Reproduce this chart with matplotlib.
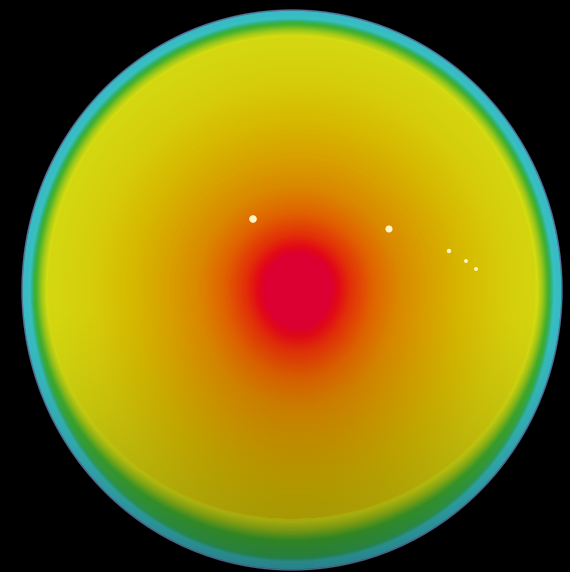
import numpy as np
import matplotlib
matplotlib.use("Agg")
import matplotlib.pyplot as plt
from matplotlib.colors import LinearSegmentedColormap
from matplotlib.patches import Ellipse

# colour scale of the heat map (value -> colour)
scale_values = [0.00, 0.10, 0.18, 0.26, 0.34, 0.40, 0.47, 0.53, 0.60, 0.66, 0.75, 0.85, 0.92, 1.00]
scale_colors = ["#3cb0d0", "#38c0c0", "#30b070", "#40b030", "#a0c818", "#d4dc12", "#d6cc0a",
                "#d6b800", "#d8a000", "#da8800", "#e06400", "#e23008", "#e20818", "#dc0032"]

# disc geometry (pixels)
disc_cx, disc_cy = 292, 290
disc_rx, disc_ry = 270, 280
hot_cx, hot_cy = 298, 287

# radial heat profile from the hot spot
heat_dist = [0, 33, 40, 52, 75, 100, 130, 165, 205, 245, 300]
heat_value = [1.0, 1.0, 0.92, 0.85, 0.75, 0.66, 0.60, 0.53, 0.47, 0.42, 0.40]

# cyan rim (depth from rim in px)
cyan_depth = [0, 8, 12]
cyan_value = [0.05, 0.10, 0.20]
# green band inside the rim (widens towards the bottom)
green_depth = [0, 14, 20, 27]
green_value = [0.18, 0.26, 0.34, 0.42]

# bright specks
speck_x = [253, 389, 449, 466, 476]
speck_y = [219, 229, 251, 261, 269]
speck_s = [30, 26, 10, 8, 8]

W, H = 570, 572
fig = plt.figure(figsize=(W / 100, H / 100), dpi=100, facecolor="black")
ax = fig.add_axes([0, 0, 1, 1])
ax.set_facecolor("black")

cmap = LinearSegmentedColormap.from_list("heat", list(zip(scale_values, scale_colors)))

yy, xx = np.mgrid[0:H, 0:W] + 0.5
dx = xx - hot_cx
dy = yy - hot_cy
dy = np.where(dy > 0, dy * 0.82, dy)
dh = np.hypot(dx, dy)
heat = np.interp(dh, heat_dist, heat_value)

r = np.hypot((xx - disc_cx) / disc_rx, (yy - disc_cy) / disc_ry)
depth = (1 - r) * 275
sb = np.clip((yy - disc_cy) / disc_ry, 0, 1)
depth_eff = depth / (1 + 1.3 * sb ** 2)
edge = np.minimum(np.interp(depth, cyan_depth, cyan_value, right=1.0),
                  np.interp(depth_eff, green_depth, green_value, right=1.0))

s = np.minimum(heat, edge)
rgba = cmap(s)
shade = 1 - 0.3 * np.clip((yy - 300) / 270, 0, 1) ** 1.5
rgba[..., :3] *= shade[..., None]
rgba[..., 3] = np.clip(depth / 2.5 + 0.5, 0, 1)

ax.imshow(rgba, extent=[0, W, H, 0], interpolation="bilinear")
ax.add_patch(Ellipse((disc_cx, disc_cy), 2 * disc_rx, 2 * disc_ry, fill=False,
                     edgecolor="#9a7cc8", lw=0.8, alpha=0.5))
ax.scatter(speck_x, speck_y, s=speck_s, color="#fff4c8", edgecolors="none")

ax.set_xlim(0, W)
ax.set_ylim(H, 0)
ax.axis("off")
fig.savefig("out.png", dpi=100, facecolor="black")
